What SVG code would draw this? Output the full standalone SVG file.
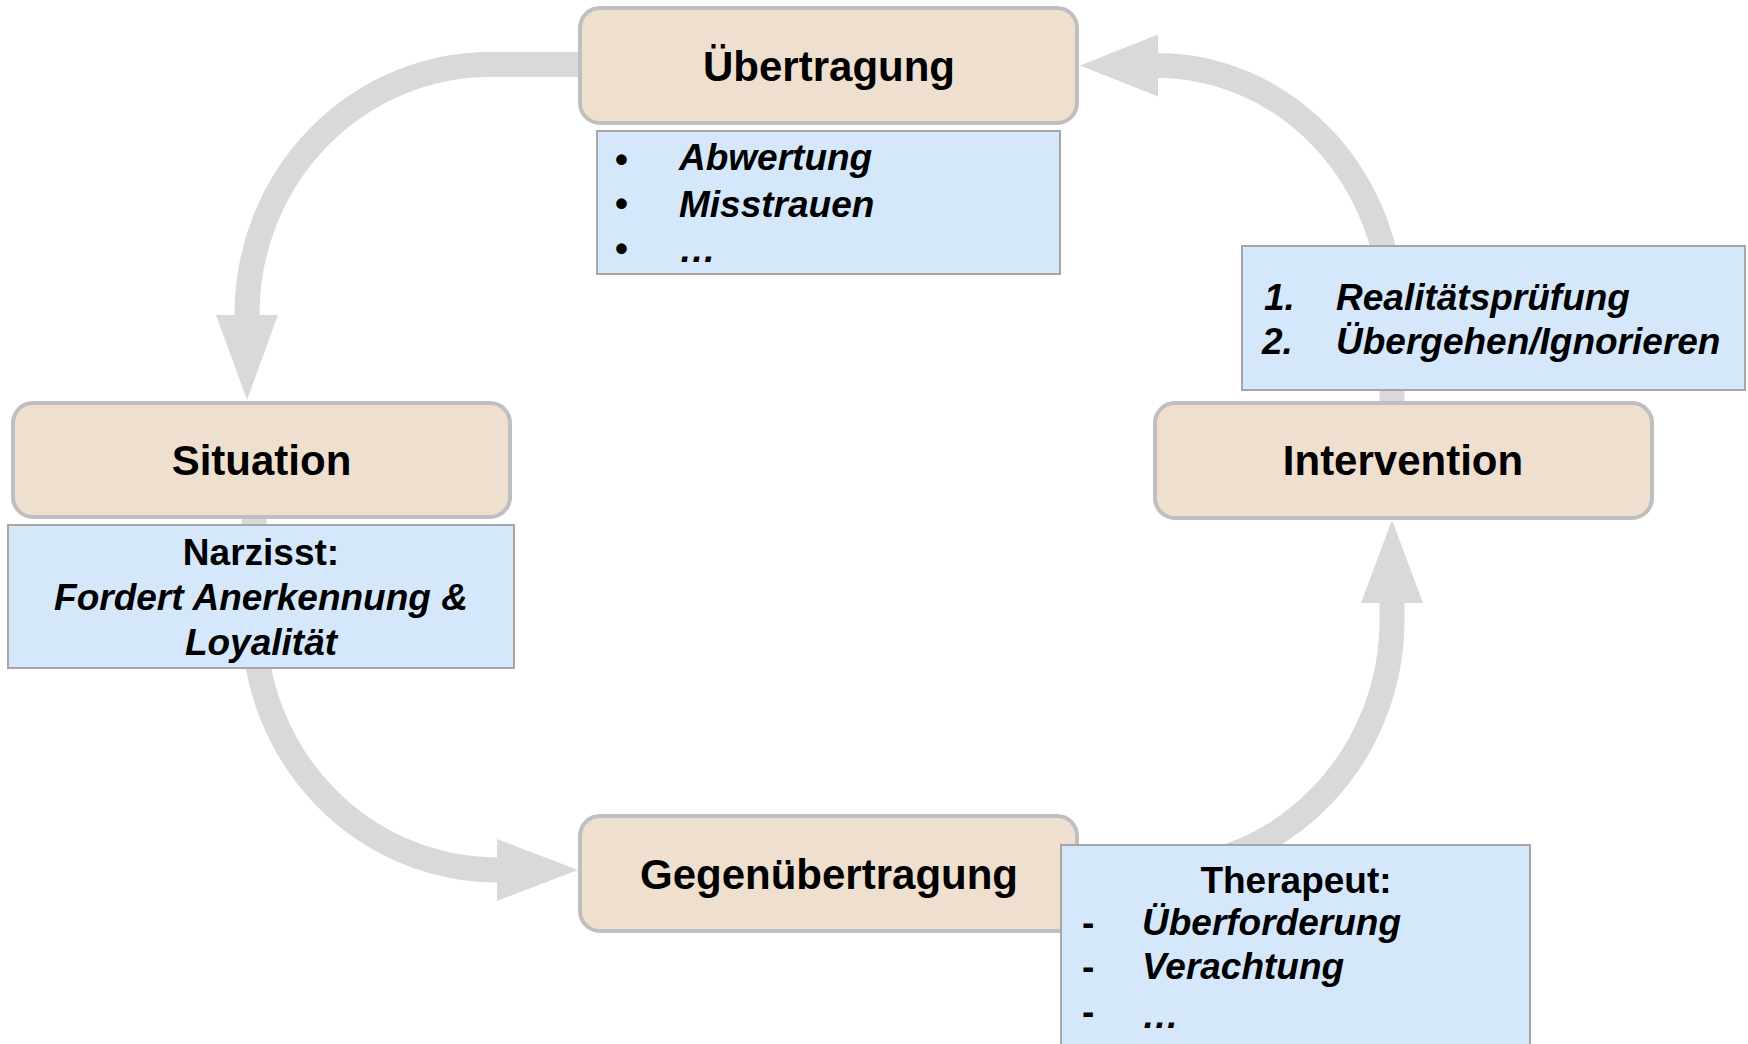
<svg xmlns="http://www.w3.org/2000/svg" width="1748" height="1044" viewBox="0 0 1748 1044">
<style>
.conn{fill:none;stroke:#d9d9d9;stroke-width:25}
.head{fill:#d9d9d9}
.node{fill:#eedfce;stroke:#bfbfbf;stroke-width:4}
.note{fill:#d5e8fb;stroke:#a6a6a6;stroke-width:2}
.title{font-family:"Liberation Sans",Arial,sans-serif;font-weight:bold;font-size:42px;fill:#000;text-anchor:middle}
.t{font-family:"Liberation Sans",Arial,sans-serif;font-weight:bold;font-size:37px;fill:#000}
.i{font-style:italic}
.c{text-anchor:middle}
</style>
<rect width="1748" height="1044" fill="#ffffff"/>
<g id="connectors">
<path class="conn" d="M580,64.5 H490 A243,250 0 0 0 247,314.5 V316"/>
<polygon class="head" points="216,315 278,315 247,400"/>
<path class="conn" d="M254,517 V620 A243,250 0 0 0 497,870 H498"/>
<polygon class="head" points="497,839 497,901 578,870"/>
<path class="conn" d="M1078,870 H1149 A243,250 0 0 0 1392,620 V602"/>
<polygon class="head" points="1361,603 1423,603 1392,520"/>
<path class="conn" d="M1392,403 V315.5 A235,250 0 0 0 1157,65.5 H1158"/>
<polygon class="head" points="1158,34.5 1158,96.5 1080,65.5"/>
</g>
<g id="uebertragung">
<rect class="node" x="580" y="8" width="497" height="115" rx="20"/>
<text class="title" x="829" y="81">Übertragung</text>
</g>
<g id="uebertragung-note">
<rect class="note" x="597" y="131" width="463" height="143"/>
<text class="t" x="615" y="172">•</text>
<text class="t" x="615" y="216">•</text>
<text class="t" x="615" y="261">•</text>
<text class="t i" x="679" y="170">Abwertung</text>
<text class="t i" x="679" y="217">Misstrauen</text>
<text class="t i" x="679" y="262">…</text>
</g>
<g id="situation">
<rect class="node" x="13" y="403" width="497" height="114" rx="20"/>
<text class="title" x="261.5" y="475">Situation</text>
</g>
<g id="situation-note">
<rect class="note" x="8" y="525" width="506" height="143"/>
<text class="t c" x="261" y="565">Narzisst:</text>
<text class="t i c" x="261" y="610">Fordert Anerkennung &amp;</text>
<text class="t i c" x="261" y="655">Loyalität</text>
</g>
<g id="intervention">
<rect class="node" x="1155" y="403" width="497" height="115" rx="20"/>
<text class="title" x="1403" y="475">Intervention</text>
</g>
<g id="intervention-note">
<rect class="note" x="1242" y="246" width="503" height="144"/>
<text class="t i" x="1264" y="310">1.</text>
<text class="t i" x="1336" y="310">Realitätsprüfung</text>
<text class="t i" x="1262" y="354">2.</text>
<text class="t i" x="1336" y="354">Übergehen/Ignorieren</text>
</g>
<g id="gegenuebertragung">
<rect class="node" x="580" y="816" width="497" height="115" rx="20"/>
<text class="title" x="829" y="889">Gegenübertragung</text>
</g>
<g id="gegenuebertragung-note">
<rect class="note" x="1061" y="845" width="469" height="220"/>
<text class="t c" x="1296" y="893">Therapeut:</text>
<text class="t" x="1082" y="935">-</text>
<text class="t" x="1082" y="979">-</text>
<text class="t" x="1082" y="1024">-</text>
<text class="t i" x="1142" y="935">Überforderung</text>
<text class="t i" x="1142" y="979">Verachtung</text>
<text class="t i" x="1142" y="1028">…</text>
</g>
</svg>
